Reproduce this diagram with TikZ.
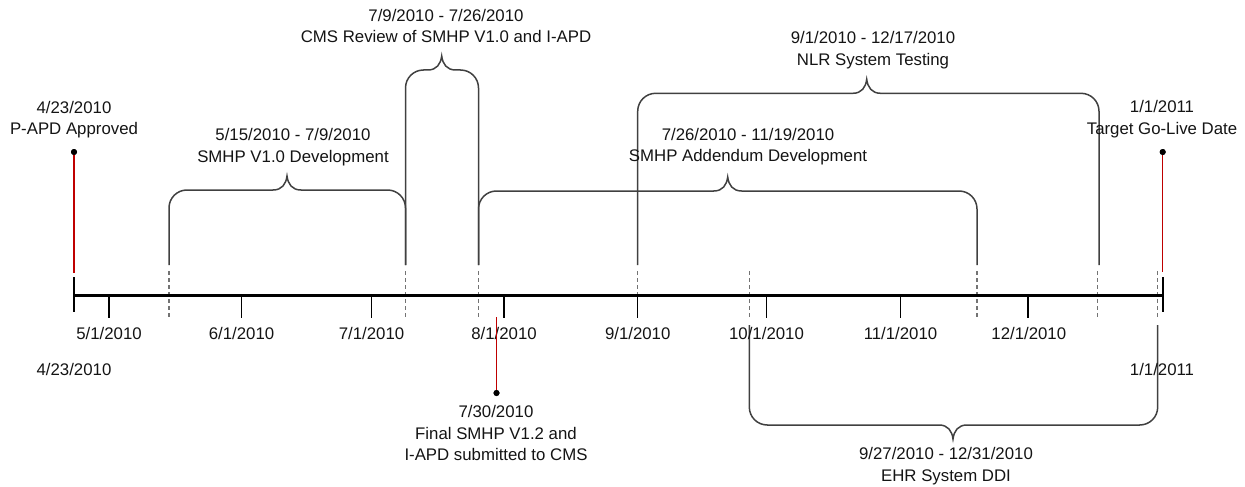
\documentclass[tikz,border=0pt]{standalone}
\usepackage{fontspec}
\setmainfont{Liberation Sans}
\begin{document}
\begin{tikzpicture}[x=1pt,y=-1pt,
  axisline/.style={line width=3pt,black},
  tickmark/.style={line width=1.5pt,black},
  datedash/.style={black!55,line width=1.2pt,dash pattern=on 4pt off 3pt},
  bracebar/.style={black!75,line width=1.5pt},
  redline/.style={red!75!black,line width=1.5pt},
  dotmark/.style={circle,fill=black,inner sep=0pt,minimum size=6pt},
  lbl/.style={font=\fontsize{16.8}{21.5}\selectfont,text=black!92,align=center,inner sep=0pt},
]
\useasboundingbox (0,0) rectangle (1245,487);

% ---- top brace: L, R, H (bar y), T (tip x), B (leg bottom y)
\newcommand\topbrace[5]{%
  \draw[bracebar] (#1,#5) -- (#1,#3+18)
    .. controls (#1,#3+8) and (#1+8,#3) .. (#1+18,#3)
    -- (#4-14,#3) .. controls (#4-5,#3) and (#4-1,#3-6) .. (#4,#3-14)
    .. controls (#4+1,#3-6) and (#4+5,#3) .. (#4+14,#3)
    -- (#2-18,#3) .. controls (#2-8,#3) and (#2,#3+8) .. (#2,#3+18)
    -- (#2,#5);}
\newcommand\botbrace[5]{%
  \draw[bracebar] (#1,#5) -- (#1,#3-18)
    .. controls (#1,#3-8) and (#1+8,#3) .. (#1+18,#3)
    -- (#4-14,#3) .. controls (#4-5,#3) and (#4-1,#3+6) .. (#4,#3+14)
    .. controls (#4+1,#3+6) and (#4+5,#3) .. (#4+14,#3)
    -- (#2-18,#3) .. controls (#2-8,#3) and (#2,#3-8) .. (#2,#3-18)
    -- (#2,#5);}

% ---- dashed date markers
\foreach \x in {169,405.5,478.5,749.5,977,1097.7,1157.7}
  \draw[datedash] (\x,271) -- (\x,318);
\draw[datedash] (637.7,271) -- (637.7,294);

% ---- braces
\topbrace{169}{405.5}{190}{287}{265}
\topbrace{405.5}{478.5}{70}{441.7}{265}
\topbrace{478.5}{977}{191}{727.7}{265}
\topbrace{637.7}{1099}{93.3}{866.7}{265}
\botbrace{749.3}{1157.7}{425}{953}{325}

% ---- axis
\coordinate (axL) at (74,295.5);
\coordinate (axR) at (1163,295.5);
\draw[axisline] (axL) -- (axR);
\draw[tickmark] (74,277) -- (74,312);
\draw[tickmark] (1163,277) -- (1163,312);

\foreach \x in {109,241.5,371.5,504,637.7,766.7,900.7,1028}{
  \draw[tickmark] (\x,295) -- (\x,318);
}
\node[lbl] (l05) at (109,333) {5/1/2010};
\node[lbl] (l06) at (241.5,333) {6/1/2010};
\node[lbl] (l07) at (371.5,333) {7/1/2010};
\node[lbl] (l08) at (504,333) {8/1/2010};
\node[lbl] (l09) at (637.7,333) {9/1/2010};
\node[lbl] (l10) at (766.5,333) {10/1/2010};
\node[lbl] (l11) at (900.5,333) {11/1/2010};
\node[lbl] (l12) at (1028.8,333) {12/1/2010};
\node[lbl] (lstart) at (74,369) {4/23/2010};
\node[lbl] (lend) at (1162,369) {1/1/2011};

% ---- milestones
\node[dotmark] (m1) at (74,152) {};
\coordinate (m1b) at (74,273);
\draw[redline] (m1.center) -- (m1b);
\node[dotmark] at (m1) {};
\node[lbl] (m1t) at (74,119.5) {4/23/2010\\P-APD Approved};

\node[dotmark] (m3) at (1162.7,152) {};
\coordinate (m3b) at (1162.7,272);
\draw[redline] (m3.center) -- (m3b);
\node[dotmark] at (m3) {};
\node[lbl] (m3t) at (1162,119) {1/1/2011\\Target Go-Live Date};

\node[dotmark] (m2) at (496.5,393) {};
\coordinate (m2b) at (496.5,317);
\draw[redline] (m2.center) -- (m2b);
\node[dotmark] at (m2) {};
\node[lbl] (m2t) at (496,433) {7/30/2010\\Final SMHP V1.2 and\\I-APD submitted to CMS};

% ---- brace labels
\node[lbl] (b1t) at (293,147) {5/15/2010 - 7/9/2010\\SMHP V1.0 Development};
\node[lbl] (b2t) at (446,26) {7/9/2010 - 7/26/2010\\CMS Review of SMHP V1.0 and I-APD};
\node[lbl] (b3t) at (748,146.5) {7/26/2010 - 11/19/2010\\SMHP Addendum Development};
\node[lbl] (b4t) at (873,50) {9/1/2010 - 12/17/2010\\NLR System Testing};
\node[lbl] (b5t) at (946,466) {9/27/2010 - 12/31/2010\\EHR System DDI};
\end{tikzpicture}
\end{document}
